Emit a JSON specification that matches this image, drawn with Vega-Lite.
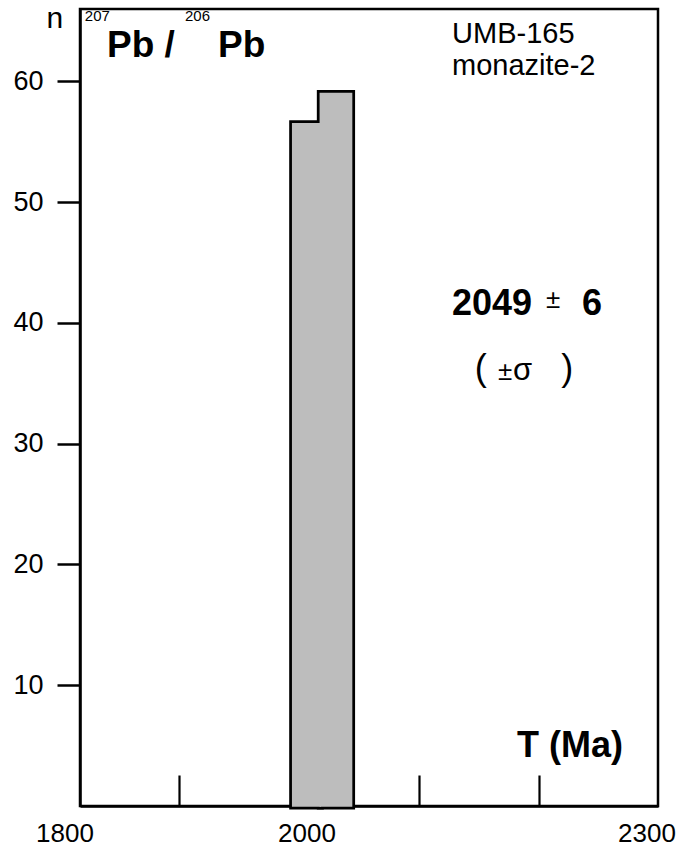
{
  "$schema": "https://vega.github.io/schema/vega-lite/v6.json",
  "width": 578,
  "height": 797,
  "autosize": {"type": "none"},
  "padding": {"left": 80, "top": 9, "right": 23, "bottom": 44},
  "background": "white",
  "config": {
    "view": {"stroke": "black", "strokeWidth": 2.5},
    "font": "Liberation Sans",
    "axis": {"grid": false, "domainColor": "black", "domainWidth": 2.5, "tickColor": "black"}
  },
  "layer": [
    {
      "data": {"values": [{"t0": 1995, "t1": 2018, "n": 56.5}, {"t0": 2018, "t1": 2044, "n": 59}]},
      "mark": {"type": "rect", "fill": "#bdbdbd", "stroke": "black", "strokeWidth": 7},
      "encoding": {
        "x": {"field": "t0", "type": "quantitative", "scale": {"domain": [1818, 2299], "nice": false, "zero": false},
              "axis": {"title": null, "values": [1900, 2000, 2100, 2200], "labels": false, "tickSize": -31, "tickWidth": 2.2, "zindex": 0}},
        "x2": {"field": "t1"},
        "y": {"field": "n", "type": "quantitative", "scale": {"domain": [0, 66], "nice": false, "zero": false},
              "axis": {"title": null, "values": [10, 20, 30, 40, 50, 60], "tickSize": 23, "tickWidth": 2.5, "labelFontSize": 27, "labelPadding": 14, "labelColor": "black", "labelFont": "Liberation Sans", "zindex": 1}},
        "y2": {"datum": 0}
      }
    },
    {
      "data": {"values": [{"t0": 1995, "t1": 2018, "n": 56.5}, {"t0": 2018, "t1": 2044, "n": 59}]},
      "mark": {"type": "rect", "fill": "#bdbdbd", "stroke": "#bdbdbd", "strokeWidth": 1.5},
      "encoding": {
        "x": {"field": "t0", "type": "quantitative", "axis": {"title": null}},
        "x2": {"field": "t1"},
        "y": {"field": "n", "type": "quantitative", "axis": {"title": null}},
        "y2": {"datum": 0}
      }
    },
    {
      "data": {"values": [{"x": 1797, "y": 64.4, "label": "n"}]},
      "mark": {"type": "text", "fontSize": 30, "align": "center", "baseline": "alphabetic", "color": "black"},
      "encoding": {"x": {"field": "x", "type": "quantitative", "axis": {"title": null}}, "y": {"field": "y", "type": "quantitative", "axis": {"title": null}}, "text": {"field": "label"}}
    },
    {
      "data": {"values": [{"x": 1822.0, "y": 65.0, "label": "207"}, {"x": 1905.4, "y": 65.0, "label": "206"}]},
      "mark": {"type": "text", "fontSize": 15, "align": "left", "baseline": "alphabetic", "color": "black"},
      "encoding": {"x": {"field": "x", "type": "quantitative", "axis": {"title": null}}, "y": {"field": "y", "type": "quantitative", "axis": {"title": null}}, "text": {"field": "label"}}
    },
    {
      "data": {"values": [{"x": 1840.5, "y": 62.0, "label": "Pb /"}, {"x": 1932.8, "y": 62.0, "label": "Pb"}]},
      "mark": {"type": "text", "fontSize": 37, "fontWeight": "bold", "align": "left", "baseline": "alphabetic", "color": "black"},
      "encoding": {"x": {"field": "x", "type": "quantitative", "axis": {"title": null}}, "y": {"field": "y", "type": "quantitative", "axis": {"title": null}}, "text": {"field": "label"}}
    },
    {
      "data": {"values": [{"x": 2127.6, "y": 63.18, "label": "UMB-165"}, {"x": 2127.6, "y": 60.53, "label": "monazite-2"}]},
      "mark": {"type": "text", "fontSize": 29, "align": "left", "baseline": "alphabetic", "color": "black"},
      "encoding": {"x": {"field": "x", "type": "quantitative", "axis": {"title": null}}, "y": {"field": "y", "type": "quantitative", "axis": {"title": null}}, "text": {"field": "label"}}
    },
    {
      "data": {"values": [{"x": 2127.6, "y": 40.66, "label": "2049"}, {"x": 2235.7, "y": 40.66, "label": "6"}]},
      "mark": {"type": "text", "fontSize": 36, "fontWeight": "bold", "align": "left", "baseline": "alphabetic", "color": "black"},
      "encoding": {"x": {"field": "x", "type": "quantitative", "axis": {"title": null}}, "y": {"field": "y", "type": "quantitative", "axis": {"title": null}}, "text": {"field": "label"}}
    },
    {
      "data": {"values": [{"x": 2205.8, "y": 41.24, "label": "±"}, {"x": 2165.8, "y": 35.28, "label": "±"}]},
      "mark": {"type": "text", "fontSize": 26, "align": "left", "baseline": "alphabetic", "color": "black"},
      "encoding": {"x": {"field": "x", "type": "quantitative", "axis": {"title": null}}, "y": {"field": "y", "type": "quantitative", "axis": {"title": null}}, "text": {"field": "label"}}
    },
    {
      "data": {"values": [{"x": 2178.3, "y": 35.28, "label": "σ"}]},
      "mark": {"type": "text", "fontSize": 31, "align": "left", "baseline": "alphabetic", "color": "black"},
      "encoding": {"x": {"field": "x", "type": "quantitative", "axis": {"title": null}}, "y": {"field": "y", "type": "quantitative", "axis": {"title": null}}, "text": {"field": "label"}}
    },
    {
      "data": {"values": [{"x": 2146.5, "y": 35.28, "label": "("}, {"x": 2218.5, "y": 35.28, "label": ")"}]},
      "mark": {"type": "text", "fontSize": 36, "align": "left", "baseline": "alphabetic", "color": "black"},
      "encoding": {"x": {"field": "x", "type": "quantitative", "axis": {"title": null}}, "y": {"field": "y", "type": "quantitative", "axis": {"title": null}}, "text": {"field": "label"}}
    },
    {
      "data": {"values": [{"x": 2181.6, "y": 4.06, "label": "T (Ma)"}]},
      "mark": {"type": "text", "fontSize": 36, "fontWeight": "bold", "align": "left", "baseline": "alphabetic", "color": "black"},
      "encoding": {"x": {"field": "x", "type": "quantitative", "axis": {"title": null}}, "y": {"field": "y", "type": "quantitative", "axis": {"title": null}}, "text": {"field": "label"}}
    },
    {
      "data": {"values": [{"x": 1805.5, "y": -3.0, "label": "1800"}, {"x": 2006.9, "y": -3.0, "label": "2000"}, {"x": 2289.8, "y": -3.0, "label": "2300"}]},
      "mark": {"type": "text", "fontSize": 26, "align": "center", "baseline": "alphabetic", "color": "black"},
      "encoding": {"x": {"field": "x", "type": "quantitative", "axis": {"title": null}}, "y": {"field": "y", "type": "quantitative", "axis": {"title": null}}, "text": {"field": "label"}}
    }
  ]
}
